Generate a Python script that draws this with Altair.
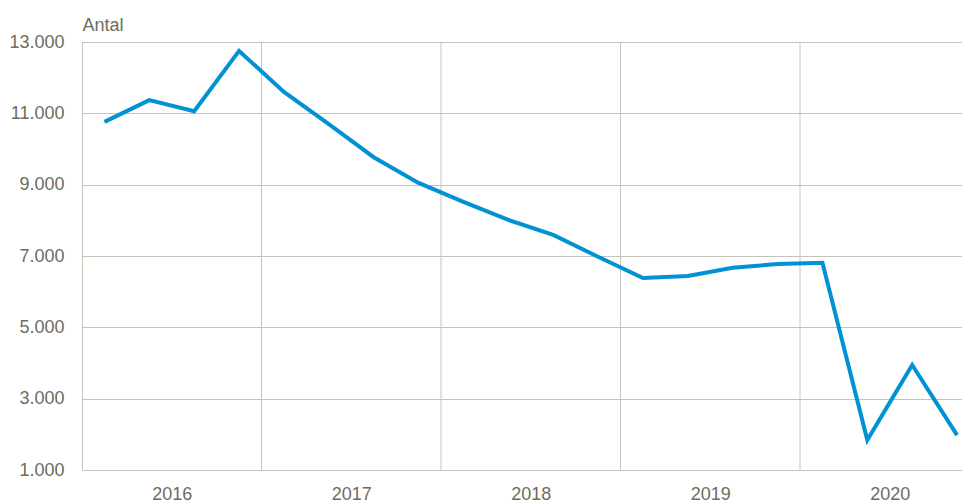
import altair as alt
import pandas as pd

years = ["2016", "2017", "2018", "2019", "2020"]
quarters = [1, 2, 3, 4]
values = [10760, 11370, 11060, 12750,
          11600, 10700, 9770, 9050,
          8520, 8010, 7590, 6980,
          6385, 6440, 6670, 6775,
          6810, 1840, 3945, 1980]
y_ticks = [1000, 3000, 5000, 7000, 9000, 11000, 13000]
year_bounds = [1, 2, 3, 4]
label_pos = [0.5, 1.5, 2.5, 3.5, 4.5]

rows = []
i = 0
for yi, y in enumerate(years):
    for q in quarters:
        rows.append({"t": yi + (q - 0.5) / 4, "v": values[i]})
        i += 1
df = pd.DataFrame(rows)
bounds_df = pd.DataFrame({"t": year_bounds})

FONT = "Liberation Sans"
TXT = "#6d6d5f"
GRID = "#c6c4b8"

x_scale = alt.Scale(domain=[0, 4.9025], nice=False, zero=False)
y_scale = alt.Scale(domain=[1000, 13000], nice=False, zero=False)

x_axis = alt.Axis(values=label_pos,
                  labelExpr="['2016','2017','2018','2019','2020'][floor(datum.value)]",
                  title=None, grid=False, ticks=False, domain=True,
                  domainColor=GRID, domainWidth=1, labelFlush=False,
                  labelFont=FONT, labelFontSize=18, labelColor=TXT,
                  labelPadding=15)

vrules = alt.Chart(bounds_df).mark_rule(color=GRID, strokeWidth=1).encode(
    x=alt.X("t:Q", scale=x_scale, axis=x_axis)
)

line = alt.Chart(df).mark_line(color="#0092d2", strokeWidth=4, strokeJoin="miter").encode(
    x=alt.X("t:Q", scale=x_scale, axis=x_axis),
    y=alt.Y("v:Q", scale=y_scale,
            axis=alt.Axis(values=y_ticks,
                          labelExpr="replace(format(datum.value, ','), ',', '.')",
                          title="Antal", titleAngle=0, titleX=0, titleY=-12,
                          titleAlign="left", titleBaseline="alphabetic",
                          titleFont=FONT, titleFontSize=18, titleFontWeight="normal",
                          titleColor=TXT,
                          grid=True, gridColor=GRID, gridWidth=1,
                          ticks=False, domain=True, domainColor=GRID, domainWidth=1,
                          labelFont=FONT, labelFontSize=18, labelColor=TXT,
                          labelPadding=18))
)

chart = alt.layer(vrules, line).properties(
    width=880, height=428,
    autosize=alt.AutoSizeParams(type="none"),
    padding={"left": 74, "top": 34, "right": 0, "bottom": 40},
).configure_view(stroke="transparent").configure(background="white")

chart.save("out.html", embed_options={"renderer": "svg", "actions": False})
